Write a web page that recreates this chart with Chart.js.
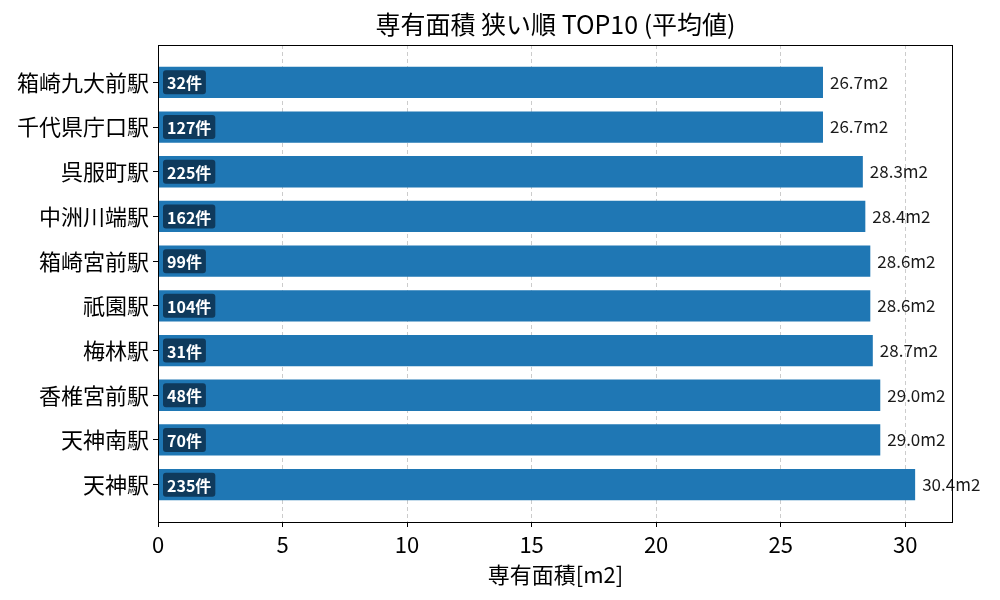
<!DOCTYPE html>
<html>
<head>
<meta charset="utf-8">
<script src="https://cdn.jsdelivr.net/npm/chart.js@4"></script>
<style>
  html, body { margin: 0; padding: 0; background: #fff; }
  #wrap { width: 1000px; height: 600px; }
</style>
</head>
<body>
<div id="wrap"><canvas id="barChart" width="1000" height="600"></canvas></div>
<script>
// 駅名（上から順）
var stations = ['箱崎九大前駅', '千代県庁口駅', '呉服町駅', '中洲川端駅', '箱崎宮前駅', '祇園駅', '梅林駅', '香椎宮前駅', '天神南駅', '天神駅'];
// 平均専有面積 (m2)
var areas = [26.7, 26.7, 28.3, 28.4, 28.6, 28.6, 28.7, 29.0, 29.0, 30.4];
// 件数
var counts = [32, 127, 225, 162, 99, 104, 31, 48, 70, 235];
var xTicks = [0, 5, 10, 15, 20, 25, 30];

var FONT = "'Noto Sans CJK JP', 'Noto Sans', sans-serif";

// 棒の横にラベルと件数バッジを描く
var labelPlugin = {
    id: 'barLabels',
    afterDatasetsDraw: function(chart) {
        var ctx = chart.ctx;
        var meta = chart.getDatasetMeta(0);
        ctx.save();
        meta.data.forEach(function(bar, i) {
            var left = chart.chartArea.left;
            // 値ラベル
            ctx.font = '17px ' + FONT;
            ctx.fillStyle = '#1a1a1a';
            ctx.textAlign = 'left';
            ctx.textBaseline = 'middle';
            ctx.fillText(areas[i].toFixed(1) + 'm2', bar.x + 7, bar.y);
            // 件数バッジ
            var txt = counts[i] + '件';
            ctx.font = 'bold 16px ' + FONT;
            var w = ctx.measureText(txt).width + 8;
            var h = 24;
            var x = left + 5, y = bar.y - h / 2;
            ctx.fillStyle = '#0f3a5c';
            ctx.beginPath();
            ctx.roundRect(x, y, w, h, 3);
            ctx.fill();
            ctx.fillStyle = '#fff';
            ctx.fillText(txt, x + 4, bar.y + 1);
        });
        // 枠線
        var a = chart.chartArea;
        ctx.strokeStyle = '#000';
        ctx.lineWidth = 1;
        ctx.strokeRect(a.left + 0.5, a.top + 0.5, a.right - a.left - 1, a.bottom - a.top);
        ctx.restore();
    }
};

function drawChart() {
    var points = areas.map(function(v, i) { return { x: v, y: i }; });
    new Chart(document.getElementById('barChart'), {
        type: 'bar',
        data: {
            datasets: [{
                label: '専有面積',
                data: points,
                backgroundColor: '#1f77b4',
                barPercentage: 0.7,
                categoryPercentage: 1.0
            }]
        },
        options: {
            indexAxis: 'y',
            responsive: false,
            animation: false,
            layout: { padding: { left: 0, right: 47, top: 0, bottom: 0 } },
            plugins: {
                legend: { display: false },
                tooltip: { enabled: false },
                title: {
                    display: true,
                    text: '専有面積 狭い順 TOP10 (平均値)',
                    fullSize: false,
                    color: '#000',
                    font: { family: FONT, size: 25, weight: 'normal' },
                    padding: { top: 9, bottom: 6 }
                }
            },
            scales: {
                x: {
                    type: 'linear',
                    min: 0,
                    max: 31.92,
                    afterFit: function(s) { s.height = 78; },
                    afterBuildTicks: function(s) { s.ticks = xTicks.map(function(v) { return { value: v }; }); },
                    ticks: { color: '#000', padding: 4, font: { family: FONT, size: 22 } },
                    grid: { color: '#cccccc', tickColor: '#000', tickLength: 5, tickBorderDash: [] },
                    border: { display: false, dash: [4, 3] },
                    title: {
                        display: true,
                        text: '専有面積[m2]',
                        color: '#000',
                        font: { family: FONT, size: 22 },
                        padding: { top: 0, bottom: 12 }
                    }
                },
                y: {
                    type: 'linear',
                    reverse: true,
                    offset: false,
                    min: -0.835,
                    max: 9.835,
                    afterFit: function(s) { s.width = 158; },
                    afterBuildTicks: function(s) { s.ticks = stations.map(function(n, i) { return { value: i }; }); },
                    ticks: {
                        color: '#000',
                        padding: 4,
                        font: { family: FONT, size: 22 },
                        callback: function(v) { return stations[v]; }
                    },
                    grid: { offset: false, drawOnChartArea: false, tickColor: '#000', tickLength: 5 },
                    border: { display: false }
                }
            }
        },
        plugins: [labelPlugin]
    });
}

drawChart();
</script>
</body>
</html>
